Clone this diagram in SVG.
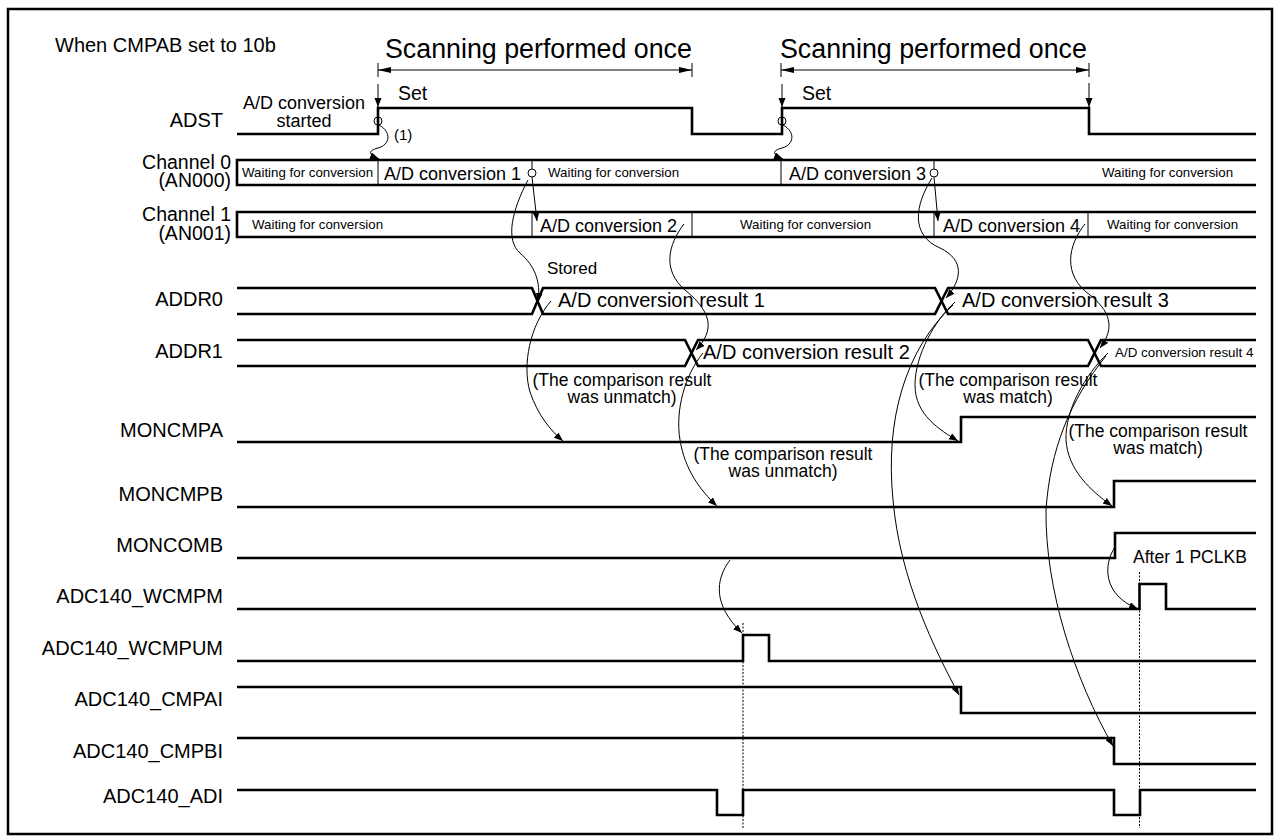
<svg xmlns="http://www.w3.org/2000/svg" width="1280" height="840" viewBox="0 0 1280 840">
<defs>
<marker id="ah" markerUnits="userSpaceOnUse" markerWidth="10" markerHeight="8" refX="9" refY="3.5" orient="auto"><path d="M0,0 L9,3.5 L0,7 z" fill="#000"/></marker>
<marker id="dim" markerUnits="userSpaceOnUse" markerWidth="14" markerHeight="8" refX="13" refY="3" orient="auto-start-reverse"><path d="M0,0 L13,3 L0,6 z" fill="#000"/></marker>
</defs>
<style>
text{font-family:"Liberation Sans",Arial,sans-serif;fill:#000}
.sig{fill:none;stroke:#000;stroke-width:2.6}
.thin{fill:none;stroke:#000;stroke-width:1}
.arr{fill:none;stroke:#000;stroke-width:1;marker-end:url(#ah)}
.lbl{font-size:20px;text-anchor:end}
.ch{font-size:19.5px;text-anchor:end}
.wait{font-size:13.3px}
.adc{font-size:18px}
.res{font-size:20px}
.cmp{font-size:17.5px;text-anchor:middle}
.dot{stroke:#000;stroke-width:1;stroke-dasharray:2,1.5}
</style>
<rect x="8" y="9" width="1264" height="825" fill="#fff" stroke="#000" stroke-width="2.5"/>
<text x="55" y="52" style="font-size:20px">When CMPAB set to 10b</text>

<g id="scan1">
<line class="thin" x1="378" y1="70" x2="692" y2="70" style="marker-start:url(#dim);marker-end:url(#dim)"/>
<line class="thin" x1="378" y1="63" x2="378" y2="77"/>
<line class="thin" x1="692" y1="63" x2="692" y2="77"/>
<text x="385" y="58" style="font-size:26.8px">Scanning performed once</text>
</g>
<g id="scan2">
<line class="thin" x1="781" y1="70" x2="1089" y2="70" style="marker-start:url(#dim);marker-end:url(#dim)"/>
<line class="thin" x1="781" y1="63" x2="781" y2="77"/>
<line class="thin" x1="1089" y1="63" x2="1089" y2="77"/>
<text x="780" y="58" style="font-size:26.8px">Scanning performed once</text>
</g>

<g id="ADST">
<text class="lbl" x="223" y="127">ADST</text>
<path class="sig" d="M237,134 H378 V108 H692 V134 H782 V108 H1089 V134 H1256"/>
<text x="304" y="109" style="font-size:18px;text-anchor:middle">A/D conversion</text>
<text x="304" y="127" style="font-size:18px;text-anchor:middle">started</text>
<line class="arr" x1="378" y1="84" x2="378" y2="107"/>
<line class="arr" x1="782" y1="84" x2="782" y2="107"/>
<line class="arr" x1="1089" y1="83" x2="1089" y2="107"/>
<text x="398" y="100" style="font-size:19.5px">Set</text>
<text x="802" y="100" style="font-size:19.5px">Set</text>
<circle class="thin" cx="378" cy="121" r="4"/>
<circle class="thin" cx="782" cy="121" r="4"/>
<text x="394" y="140" style="font-size:15px">(1)</text>
</g>

<g id="CH0">
<text class="ch" x="231" y="169">Channel 0</text>
<text class="ch" x="231" y="187">(AN000)</text>
<path class="sig" d="M1256,160 H237 V185 H1256"/>
<path class="thin" d="M378,160 V185 M532,160 V169 M781,160 V185 M934,160 V169"/>
<circle class="thin" cx="532" cy="173" r="4"/>
<circle class="thin" cx="934" cy="173" r="4"/>
<text class="wait" x="242" y="177">Waiting for conversion</text>
<text class="adc" x="384" y="180">A/D conversion 1</text>
<text class="wait" x="548" y="177">Waiting for conversion</text>
<text class="adc" x="789" y="180">A/D conversion 3</text>
<text class="wait" x="1102" y="177">Waiting for conversion</text>
</g>

<g id="CH1">
<text class="ch" x="231" y="221">Channel 1</text>
<text class="ch" x="231" y="240">(AN001)</text>
<path class="sig" d="M1256,212 H237 V237 H1256"/>
<path class="thin" d="M532,212 V237 M692,212 V237 M934,212 V237 M1088,212 V237"/>
<text class="wait" x="252" y="229">Waiting for conversion</text>
<text class="adc" x="540" y="232">A/D conversion 2</text>
<text class="wait" x="740" y="229">Waiting for conversion</text>
<text class="adc" x="943" y="232">A/D conversion 4</text>
<text class="wait" x="1107" y="229">Waiting for conversion</text>
</g>

<g id="ADDR0">
<text class="lbl" x="223" y="306">ADDR0</text>
<path class="sig" d="M237,288 H532 L543,314 H935 L948,288 H1256"/>
<path class="sig" d="M237,314 H532 L543,288 H935 L948,314 H1256"/>
<text class="res" x="558" y="307">A/D conversion result 1</text>
<text class="res" x="962" y="307">A/D conversion result 3</text>
<text x="547" y="274" style="font-size:17px">Stored</text>
</g>

<g id="ADDR1">
<text class="lbl" x="223" y="358">ADDR1</text>
<path class="sig" d="M237,340 H685 L698,366 H1088 L1101,340 H1256"/>
<path class="sig" d="M237,366 H685 L698,340 H1088 L1101,366 H1256"/>
<text class="res" x="703" y="359">A/D conversion result 2</text>
<text x="1115" y="357" style="font-size:13.4px">A/D conversion result 4</text>
</g>

<g id="MONCMPA">
<text class="lbl" x="223" y="437">MONCMPA</text>
<path class="sig" d="M237,442 H961 V417 H1256"/>
<text class="cmp" x="622" y="386">(The comparison result</text>
<text class="cmp" x="622" y="403">was unmatch)</text>
<text class="cmp" x="1008" y="386">(The comparison result</text>
<text class="cmp" x="1008" y="403">was match)</text>
</g>

<g id="MONCMPB">
<text class="lbl" x="223" y="501">MONCMPB</text>
<path class="sig" d="M237,507 H1114 V481 H1256"/>
<text class="cmp" x="783" y="460">(The comparison result</text>
<text class="cmp" x="783" y="477">was unmatch)</text>
<text class="cmp" x="1158" y="437">(The comparison result</text>
<text class="cmp" x="1158" y="454">was match)</text>
</g>

<g id="MONCOMB">
<text class="lbl" x="223" y="552">MONCOMB</text>
<path class="sig" d="M237,558 H1115 V533 H1256"/>
<text x="1133" y="563" style="font-size:17.5px">After 1 PCLKB</text>
</g>

<g id="WCMPM">
<text class="lbl" x="223" y="603">ADC140_WCMPM</text>
<path class="sig" d="M237,609 H1139.5 V584 H1166 V609 H1256"/>
</g>

<g id="WCMPUM">
<text class="lbl" x="223" y="655">ADC140_WCMPUM</text>
<path class="sig" d="M237,661 H743 V635 H769 V661 H1256"/>
</g>

<g id="CMPAI">
<text class="lbl" x="223" y="706">ADC140_CMPAI</text>
<path class="sig" d="M237,687 H961 V713 H1256"/>
</g>

<g id="CMPBI">
<text class="lbl" x="223" y="758">ADC140_CMPBI</text>
<path class="sig" d="M237,738 H1114 V764 H1256"/>
</g>

<g id="ADI">
<text class="lbl" x="223" y="803">ADC140_ADI</text>
<path class="sig" d="M237,790 H717 V815 H743 V790 H1114 V815 H1140 V790 H1256"/>
</g>

<g id="connectors">
<line class="dot" x1="743" y1="623" x2="743" y2="828"/>
<line class="dot" x1="1139.5" y1="572" x2="1139.5" y2="828"/>
<path class="arr" d="M379,125 C392,132 390,145 378,148 C367,151 369,155 379,159"/>
<path class="arr" d="M783,125 C796,132 794,145 782,148 C771,151 773,155 783,159"/>
<path class="arr" d="M532,177 L537,221"/>
<path class="arr" d="M934,177 L938,221"/>
<path class="arr" d="M528,180 C512,210 505,240 520,253 C535,266 541,282 538,302"/>
<path class="arr" d="M932,178 C915,205 910,235 940,248 C965,260 962,280 946,298"/>
<path class="arr" d="M684,224 C668,245 662,270 685,290 C712,312 715,330 696,350"/>
<path class="arr" d="M1085,224 C1068,245 1062,275 1090,295 C1115,315 1112,332 1100,348"/>
<path class="arr" d="M551,301 C530,325 522,365 530,392 C538,415 550,430 563,441"/>
<path class="arr" d="M703,353 C685,375 675,410 680,440 C685,470 700,490 717,506"/>
<path class="arr" d="M955,302 C935,320 915,355 915,385 C915,415 940,430 958,441"/>
<path class="arr" d="M953,305 C905,350 885,420 893,500 C900,580 935,650 959,695"/>
<path class="arr" d="M1108,353 C1085,375 1065,410 1066,440 C1068,470 1090,490 1112,506"/>
<path class="arr" d="M1106,356 C1070,400 1050,450 1046,510 C1045,590 1075,680 1113,746"/>
<path class="arr" d="M730,560 C715,580 713,605 742,633"/>
<path class="arr" d="M1115,547 C1103,565 1103,595 1138,609"/>
</g>
</svg>
